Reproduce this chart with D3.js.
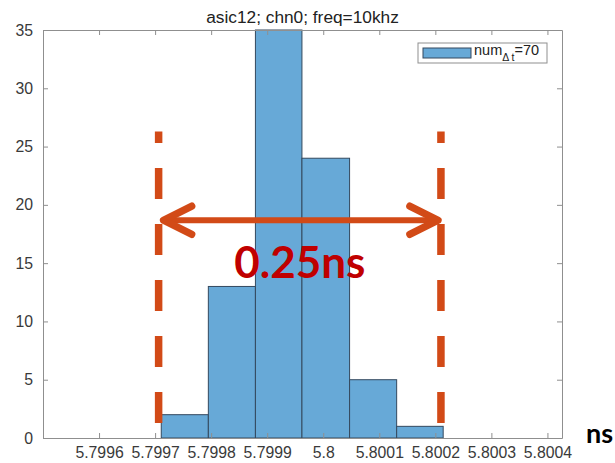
<!DOCTYPE html>
<html>
<head>
<meta charset="utf-8">
<script src="https://cdn.jsdelivr.net/npm/d3@7"></script>
<style>
body { margin: 0; background: #fff; }
svg { display: block; }
.axis text { font-family: "Liberation Sans", Arial, sans-serif; font-size: 15.8px; fill: #3a3a3a; }
.axis path, .axis line { stroke: #8f8f8f; }
</style>
</head>
<body>
<div id="chart"></div>
<script>
// histogram bins (ns) and counts
var binEdges = [5.799711, 5.799795, 5.799879, 5.799962, 5.800047, 5.800131, 5.800214];
var binCounts = [2, 13, 35, 24, 5, 1];

// axis ticks
var xTicks = [5.7996, 5.7997, 5.7998, 5.7999, 5.8, 5.8001, 5.8002, 5.8003, 5.8004];
var xTickLabels = ["5.7996", "5.7997", "5.7998", "5.7999", "5.8", "5.8001", "5.8002", "5.8003", "5.8004"];
var yTicks = [0, 5, 10, 15, 20, 25, 30, 35];

var title = "asic12; chn0; freq=10khz";
var legendParts = ["num", "\u0394 t", "=70"];

// jitter window annotation drawn over the plot
var windowEdges = [5.7997063, 5.80021];
var windowSpan = [1.25, 26.3];
var arrowLevel = 18.68;
var windowLabel = "0.25ns";
var unitLabel = "ns";

var margin = {top: 30, right: 53, bottom: 25, left: 43},
    width = 615 - margin.left - margin.right,
    height = 463 - margin.top - margin.bottom;

var x = d3.scaleLinear().domain([5.7995, 5.800426]).range([0, width]);
var y = d3.scaleLinear().domain([0, 35]).range([height, 0]);

var svg = d3.select("#chart").append("svg")
    .attr("width", width + margin.left + margin.right)
    .attr("height", height + margin.top + margin.bottom)
    .style("background", "#fff")
  .append("g")
    .attr("transform", "translate(" + margin.left + "," + margin.top + ")");

// bars
var bins = binCounts.map(function(c, i) { return {x0: binEdges[i], x1: binEdges[i + 1], n: c}; });
svg.selectAll("rect.bar")
    .data(bins)
    .enter()
    .append("rect")
    .attr("class", "bar")
    .attr("x", function(d) { return x(d.x0); })
    .attr("width", function(d) { return x(d.x1) - x(d.x0); })
    .attr("y", function(d) { return y(d.n); })
    .attr("height", function(d) { return height - y(d.n); })
    .style("fill", "#67a9d7")
    .style("stroke", "#34495e")
    .style("stroke-width", 1);

// axes, box style with inward ticks
svg.append("g").attr("class", "axis")
    .attr("transform", "translate(0," + height + ")")
    .call(d3.axisBottom(x).tickValues(xTicks)
      .tickFormat(function(d, i) { return xTickLabels[i]; })
      .tickSizeInner(-5).tickSizeOuter(0).tickPadding(9));
svg.append("g").attr("class", "axis")
    .call(d3.axisTop(x).tickValues(xTicks).tickFormat("")
      .tickSizeInner(-5).tickSizeOuter(0));
svg.append("g").attr("class", "axis")
    .call(d3.axisLeft(y).tickValues(yTicks)
      .tickSizeInner(-5).tickSizeOuter(0).tickPadding(10));
svg.append("g").attr("class", "axis")
    .attr("transform", "translate(" + width + ",0)")
    .call(d3.axisRight(y).tickValues(yTicks).tickFormat("")
      .tickSizeInner(-5).tickSizeOuter(0));

// title
svg.append("text")
    .attr("x", width / 2)
    .attr("y", -7)
    .attr("text-anchor", "middle")
    .style("font-family", "Liberation Sans, Arial, sans-serif")
    .style("font-size", "17.3px")
    .style("fill", "#222")
    .text(title);

// legend
var lg = svg.append("g").attr("transform", "translate(375,13)");
lg.append("rect")
    .attr("width", 129).attr("height", 20)
    .style("fill", "#fff").style("stroke", "#8f8f8f");
lg.append("rect")
    .attr("x", 5).attr("y", 5).attr("width", 48).attr("height", 10)
    .style("fill", "#67a9d7").style("stroke", "#34495e");
var lt = lg.append("text")
    .attr("x", 56).attr("y", 12)
    .style("font-family", "Liberation Sans, Arial, sans-serif")
    .style("font-size", "14.5px")
    .style("fill", "#222");
lt.append("tspan").text(legendParts[0]);
lt.append("tspan").attr("dy", 6).style("font-size", "10.5px").text(legendParts[1]);
lt.append("tspan").attr("dy", -6).text(legendParts[2]);

// dashed window markers
var orange = "#d24a17";
svg.selectAll("line.marker")
    .data(windowEdges)
    .enter()
    .append("line")
    .attr("class", "marker")
    .attr("x1", function(d) { return x(d); })
    .attr("x2", function(d) { return x(d); })
    .attr("y1", y(windowSpan[1]))
    .attr("y2", y(windowSpan[0]))
    .style("stroke", orange)
    .style("stroke-width", 7.5)
    .style("stroke-dasharray", "31,25")
    .style("stroke-dashoffset", 19.4);

// double arrow
var ay = y(arrowLevel);
var xl = x(windowEdges[0]) + 5, xr = x(windowEdges[1]) - 3;
svg.append("line")
    .attr("x1", xl).attr("x2", xr)
    .attr("y1", ay).attr("y2", ay)
    .style("stroke", orange).style("stroke-width", 6);
svg.append("path")
    .attr("d", "M" + (xl + 28) + "," + (ay - 14) + "L" + xl + "," + ay + "L" + (xl + 28) + "," + (ay + 14) +
               "M" + (xr - 28) + "," + (ay - 14) + "L" + xr + "," + ay + "L" + (xr - 28) + "," + (ay + 14))
    .style("fill", "none").style("stroke", orange).style("stroke-width", 7.5)
    .style("stroke-linecap", "round").style("stroke-linejoin", "round");

svg.append("text")
    .attr("x", (x(windowEdges[0]) + x(windowEdges[1])) / 2)
    .attr("y", ay + 57.5)
    .attr("text-anchor", "middle")
    .style("font-family", "Lato, sans-serif")
    .style("font-weight", "bold")
    .style("font-size", "44px")
    .style("fill", "#c00000")
    .text(windowLabel);

// unit label at the end of the x axis
svg.append("text")
    .attr("x", width + 24)
    .attr("y", height + 5)
    .style("font-family", "Lato, sans-serif")
    .style("font-weight", "bold")
    .style("font-size", "27px")
    .style("fill", "#000")
    .text(unitLabel);
</script>
</body>
</html>
